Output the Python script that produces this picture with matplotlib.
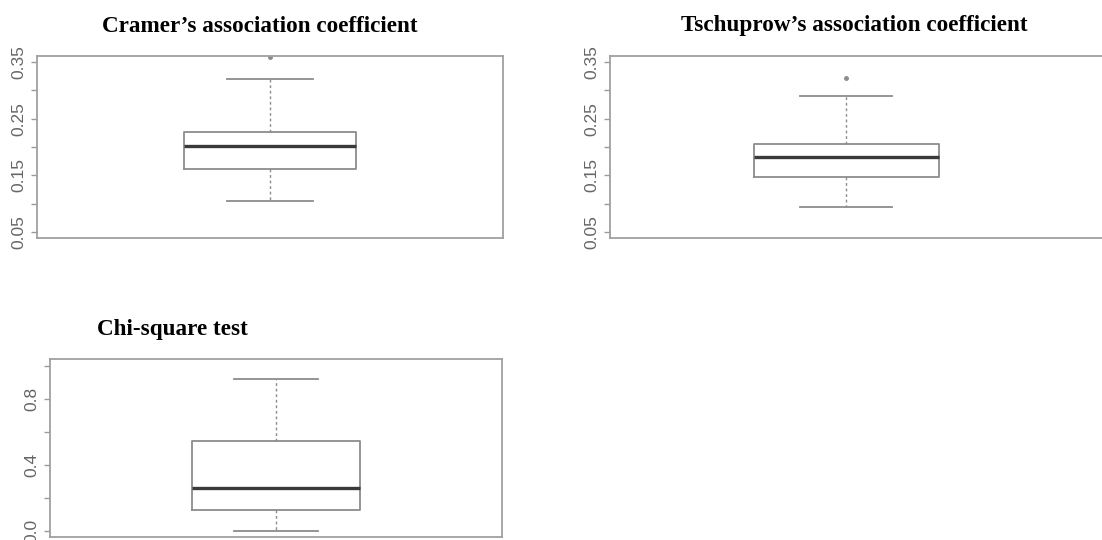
import matplotlib.pyplot as plt

# box statistics
titles = ["Cramer\u2019s association coefficient",
          "Tschuprow\u2019s association coefficient",
          "Chi-square test"]
q1 = [0.162, 0.147, 0.130]
med = [0.201, 0.182, 0.261]
q3 = [0.227, 0.206, 0.545]
whis_lo = [0.105, 0.094, 0.002]
whis_hi = [0.320, 0.290, 0.921]
fliers = [[0.358], [0.322], []]

ylims = [(0.0395, 0.3605), (0.0395, 0.3605), (-0.036, 1.04)]
yticks = [[0.05, 0.10, 0.15, 0.20, 0.25, 0.30, 0.35],
          [0.05, 0.10, 0.15, 0.20, 0.25, 0.30, 0.35],
          [0.0, 0.2, 0.4, 0.6, 0.8, 1.0]]
ylabels = [["0.05", "", "0.15", "", "0.25", "", "0.35"],
           ["0.05", "", "0.15", "", "0.25", "", "0.35"],
           ["0.0", "", "0.4", "", "0.8", ""]]

W, H = 1102, 540
# axes rectangles in pixels: left, top, right, bottom
rects = [(37, 56, 503, 238), (610, 56, 1110, 238), (50, 359, 502, 537)]
xlims = [(0.5, 1.5), (0.528, 1.528), (0.5, 1.5)]
title_pos = [(260, 26), (854, 26), (172, 329)]

grey = "#8c8c8c"
fig = plt.figure(figsize=(W / 100, H / 100), dpi=100)

for i in range(3):
    l, t, r, b = rects[i]
    ax = fig.add_axes([l / W, 1 - b / H, (r - l) / W, (b - t) / H])
    stats = [dict(med=med[i], q1=q1[i], q3=q3[i], whislo=whis_lo[i],
                  whishi=whis_hi[i], fliers=fliers[i])]
    ax.bxp(stats, positions=[1], widths=0.37, capwidths=0.185,
           boxprops=dict(color=grey, lw=1.3),
           medianprops=dict(color="#3a3a3a", lw=2.4),
           whiskerprops=dict(color=grey, lw=1.0, ls=(0, (2, 2))),
           capprops=dict(color=grey, lw=1.3),
           flierprops=dict(marker="o", markersize=2.5, markerfacecolor=grey,
                           markeredgecolor=grey))
    ax.set_xlim(*xlims[i])
    ax.set_ylim(*ylims[i])
    ax.set_xticks([])
    ax.set_yticks(yticks[i])
    ax.set_yticklabels(ylabels[i], rotation=90, va="center",
                       family="Liberation Sans", fontsize=12.5, color="#666666")
    ax.tick_params(axis="y", length=4, width=1, color="#9a9a9a", pad=4)
    for s in ax.spines.values():
        s.set_color("#a0a0a0")
        s.set_linewidth(1.3)
    tx, ty = title_pos[i]
    fig.text(tx / W, 1 - ty / H, titles[i], ha="center", va="center",
             family="Liberation Serif", fontweight="bold", fontsize=16.7)

fig.savefig("out.png", dpi=100)
